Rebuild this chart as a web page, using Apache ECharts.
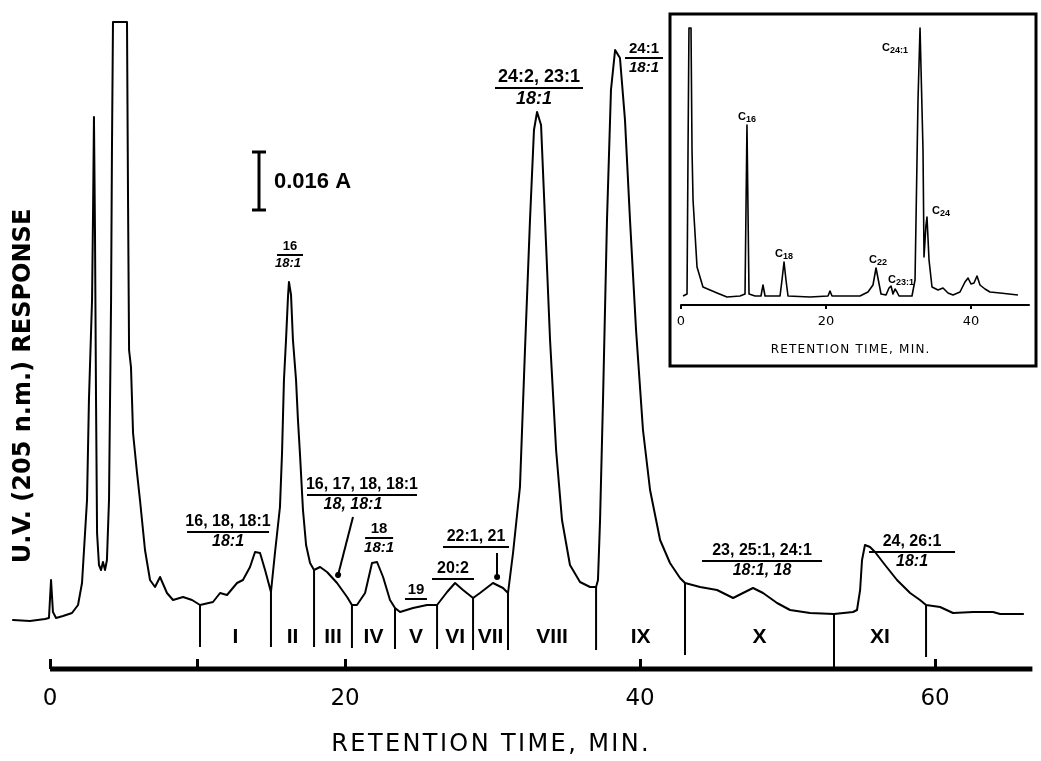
<!DOCTYPE html>
<html>
<head>
<meta charset="utf-8">
<title>HPLC chromatogram</title>
<script src="https://cdn.jsdelivr.net/npm/echarts@6/dist/echarts.min.js"></script>
<style>
  html, body { margin: 0; padding: 0; background: #fff; }
  #chart { width: 1041px; height: 761px; }
</style>
</head>
<body>
<div id="chart"></div>
<script>
// main trace: retention time (min) / UV response (arbitrary units)
var traceTime = [-2.51, -1.36, -0.34, -0.07, 0.07, 0.20, 0.41, 0.88, 1.49, 1.90, 2.17, 2.51, 2.64, 2.85, 2.92, 2.98,
  3.05, 3.12, 3.19, 3.32, 3.46, 3.59, 3.73, 3.86, 4.00, 4.14, 4.20, 4.27, 5.22, 5.29, 5.36, 5.49, 5.63, 5.90,
  6.10, 6.44, 6.78, 7.12, 7.46, 7.59, 7.93, 8.34, 9.02, 9.63, 10.17, 11.05, 11.53, 12.00, 12.68, 13.08, 13.56,
  13.90, 14.24, 14.58, 14.98, 15.25, 15.59, 15.73, 15.86, 16.00, 16.14, 16.20, 16.34, 16.47, 16.68, 16.81,
  16.95, 17.15, 17.36, 17.63, 17.90, 18.31, 18.78, 19.46, 20.14, 20.47, 20.81, 21.36, 21.83, 22.17, 22.58,
  23.05, 23.39, 23.73, 24.61, 25.56, 26.24, 26.92, 27.46, 28.00, 28.68, 29.15, 30.03, 30.71, 31.05, 31.39,
  31.86, 32.20, 32.54, 32.81, 33.02, 33.29, 33.56, 33.90, 34.31, 34.71, 35.25, 35.93, 36.61, 37.02, 37.15,
  37.29, 37.49, 37.76, 38.03, 38.31, 38.64, 38.98, 39.32, 39.73, 40.20, 40.68, 41.36, 42.03, 42.71, 43.05,
  44.07, 45.22, 46.31, 46.98, 47.66, 48.34, 49.29, 50.17, 51.53, 53.15, 54.44, 54.71, 54.92, 55.05, 55.25,
  55.59, 55.93, 56.61, 57.42, 58.31, 58.98, 59.39, 60.34, 61.22, 62.58, 63.93, 64.41, 65.97];
var traceResponse = [49, 48, 50, 51, 89, 57, 51, 53, 56, 64, 86, 169, 269, 369, 459, 552,
  436, 269, 136, 104, 99, 107, 99, 109, 169, 369, 519, 647, 647, 469, 319, 302, 236, 196,
  169, 119, 89, 82, 92, 91, 76, 69, 72, 69, 64, 67, 76, 74, 86, 89, 102,
  117, 116, 99, 77, 116, 162, 216, 289, 329, 374, 387, 374, 329, 289, 249,
  214, 159, 124, 106, 99, 102, 97, 86, 72, 64, 64, 76, 106, 107, 92,
  69, 61, 57, 61, 64, 64, 77, 86, 79, 71, 76, 86, 81, 76, 116,
  182, 319, 449, 539, 557, 544, 449, 329, 219, 149, 104, 87, 82, 82, 89,
  149, 269, 449, 579, 619, 611, 549, 449, 339, 239, 179, 129, 106, 91, 86,
  82, 79, 71, 76, 81, 76, 66, 59, 56, 55, 57, 59, 79, 109, 124,
  122, 117, 104, 89, 76, 69, 64, 62, 56, 57, 57, 55, 55];

// fraction cut points (min) with pen line top/bottom (response units)
var fractionNames = ['I', 'II', 'III', 'IV', 'V', 'VI', 'VII', 'VIII', 'IX', 'X', 'XI'];
var sepTime = [10.17, 14.98, 17.90, 20.47, 23.39, 26.24, 28.68, 31.05, 37.02, 43.05, 53.15, 59.39];
var sepTop = [64, 77, 99, 64, 61, 64, 71, 76, 82, 86, 55, 64];
var sepBottom = [22, 22, 22, 21, 20, 20, 19, 19, 19, 14, 1, 12];

// peak assignments (numerator / denominator)
var annNumerator = ['16, 18, 18:1', '16', '16, 17, 18, 18:1', '18', '19', '20:2', '22:1, 21',
  '24:2, 23:1', '24:1', '23, 25:1, 24:1', '24, 26:1'];
var annDenominator = ['18:1', '18:1', '18, 18:1', '18:1', '', '', '', '18:1', '18:1', '18:1, 18', '18:1'];
var annTime = [12.07, 16.27, 21.15, 22.31, 24.81, 27.32, 28.88, 33.15, 40.27, 48.27, 58.44];
var annLevel = [137, 414, 174, 131, 70, 90, 122, 581, 611, 108, 117];
var pointerFrom = [[20.54, 152], [30.31, 116]];
var pointerTo = [[19.53, 94], [30.31, 92]];

var mainTicks = [0, 10, 20, 40, 60];
var mainTickLabels = [0, 20, 40, 60];

// inset: GC of the methyl esters
var insetTime = [0.28, 0.83, 0.97, 1.10, 1.38, 1.52, 1.66, 2.21, 3.03, 4.97, 6.34, 8.14, 8.83, 9.10, 9.38,
  10.21, 11.03, 11.31, 11.59, 13.66, 13.93, 14.21, 14.48, 14.76, 17.79, 20.28, 20.55, 20.83, 24.69, 25.79,
  26.48, 26.90, 27.17, 27.59, 28.28, 28.69, 28.97, 29.24, 29.52, 29.79, 30.07, 31.86, 32.28, 32.69, 32.97,
  33.24, 33.38, 33.52, 33.79, 33.93, 34.21, 34.62, 35.45, 36.14, 36.83, 37.52, 38.48, 39.17, 39.59, 40.00,
  40.41, 40.83, 41.24, 41.93, 42.62, 44.00, 46.48];
var insetResponse = [9, 11, 155, 277, 277, 155, 105, 38, 18, 12, 8, 9, 11, 180, 11,
  9, 9, 20, 9, 9, 25, 43, 25, 9, 8, 9, 14, 9, 9, 13,
  20, 37, 35, 11, 10, 17, 19, 11, 16, 13, 9, 9, 25, 205, 277,
  277, 155, 48, 80, 88, 45, 18, 15, 17, 12, 10, 13, 23, 27, 21,
  22, 29, 20, 16, 13, 12, 10];
var insetPeakNames = ['16', '18', '22', '23:1', '24:1', '24'];
var insetPeakTime = [9.10, 14.21, 26.90, 28.97, 33.10, 33.93];
var insetPeakHeight = [180, 43, 37, 19, 277, 88];
var insetTicks = [0, 20, 40];

var FONT = '"DejaVu Sans", sans-serif';
var ANN_FONT = '"Liberation Sans", sans-serif';

// per-label layout: half width of the bar (px), font size, denominator shift
var annLayout = [
  { hw: 41, fs: 16, dx: 0 }, { hw: 13, fs: 13, dx: -2 }, { hw: 55, fs: 16, dx: -9 },
  { hw: 14, fs: 15, dx: 0 }, { hw: 11, fs: 15, dx: 0 }, { hw: 21, fs: 16, dx: 0 },
  { hw: 33, fs: 16, dx: 0 }, { hw: 44, fs: 18, dx: -5 }, { hw: 19, fs: 15, dx: 0 },
  { hw: 60, fs: 16, dx: 0 }, { hw: 43, fs: 16, dx: 0 }
];
var insetLabelOffset = [[0, 2], [0, 2], [2, 2], [10, 4], [-26, 30], [14, 4]];

var romanTime = fractionNames.map(function (n, i) { return (sepTime[i] + sepTime[i + 1]) / 2; });

// spread letters a little, like the stencil lettering
function spaced(s) { return s.split('').join('\u200A'); }

var chart = echarts.init(document.getElementById('chart'));

var option = {
  animation: false,
  backgroundColor: '#fff',
  grid: [
    { left: 11.65, width: 1020.75, top: 0, height: 669 },
    { left: 681, width: 348, top: 14, height: 291 }
  ],
  xAxis: [
    {
      type: 'value', gridIndex: 0, min: -2.6, max: 66.6,
      axisLine: { show: false },
      splitLine: { show: false },
      axisTick: { show: true, inside: true, length: 10, customValues: mainTicks, lineStyle: { color: '#000', width: 3 } },
      axisLabel: { customValues: mainTickLabels, color: '#000', fontSize: 23, fontFamily: FONT, margin: 19 }
    },
    {
      type: 'value', gridIndex: 1, min: 0, max: 48,
      axisLine: { show: true, lineStyle: { color: '#000', width: 2 } },
      splitLine: { show: false },
      axisTick: { show: true, length: 4, customValues: insetTicks, lineStyle: { color: '#000', width: 2 } },
      axisLabel: { customValues: insetTicks, color: '#000', fontSize: 13, fontFamily: FONT, margin: 10 }
    }
  ],
  yAxis: [
    { type: 'value', gridIndex: 0, min: 0, max: 669, show: false },
    { type: 'value', gridIndex: 1, min: 0, max: 291, show: false }
  ],
  series: [
    {
      name: 'axis', type: 'line', xAxisIndex: 0, yAxisIndex: 0, clip: false, silent: true,
      showSymbol: false, data: [[0, 0], [66.6, 0]],
      lineStyle: { color: '#000', width: 5 }
    },
    {
      name: 'UV 205 nm', type: 'line', xAxisIndex: 0, yAxisIndex: 0,
      showSymbol: false, smooth: false,
      data: traceTime.map(function (t, i) { return [t, traceResponse[i]]; }),
      lineStyle: { color: '#000', width: 2, join: 'round', cap: 'round' }
    },
    {
      name: 'cuts', type: 'custom', xAxisIndex: 0, yAxisIndex: 0, silent: true,
      data: sepTime.map(function (t, i) { return [t, sepTop[i], sepBottom[i]]; }),
      renderItem: function (params, api) {
        var a = api.coord([api.value(0), api.value(1)]);
        var b = api.coord([api.value(0), api.value(2)]);
        return { type: 'line', shape: { x1: a[0], y1: a[1], x2: b[0], y2: b[1] }, style: { stroke: '#000', lineWidth: 2 } };
      }
    },
    {
      name: 'fractions', type: 'custom', xAxisIndex: 0, yAxisIndex: 0, silent: true,
      data: romanTime.map(function (t) { return [t, 32]; }),
      renderItem: function (params, api) {
        var p = api.coord([api.value(0), api.value(1)]);
        return { type: 'text', x: p[0], y: p[1], style: { text: fractionNames[params.dataIndex], align: 'center',
          verticalAlign: 'middle', fill: '#000', fontSize: 21, fontWeight: 'bold', fontFamily: ANN_FONT } };
      }
    },
    {
      name: 'assignments', type: 'custom', xAxisIndex: 0, yAxisIndex: 0, silent: true,
      data: annTime.map(function (t, i) { return [t, annLevel[i]]; }),
      renderItem: function (params, api) {
        var i = params.dataIndex;
        var p = api.coord([api.value(0), api.value(1)]);
        var s = annLayout[i];
        var kids = [
          { type: 'line', shape: { x1: p[0] - s.hw, y1: p[1], x2: p[0] + s.hw, y2: p[1] }, style: { stroke: '#000', lineWidth: 2 } },
          { type: 'text', x: p[0], y: p[1] - 2, style: { text: annNumerator[i], align: 'center', verticalAlign: 'bottom',
            fill: '#000', fontSize: s.fs, fontFamily: ANN_FONT, fontWeight: 'bold' } }
        ];
        if (annDenominator[i]) {
          kids.push({ type: 'text', x: p[0] + s.dx, y: p[1] + 2, style: { text: annDenominator[i], align: 'center', verticalAlign: 'top',
            fill: '#000', fontSize: s.fs, fontFamily: ANN_FONT, fontWeight: 'bold', fontStyle: 'italic' } });
        }
        return { type: 'group', children: kids };
      }
    },
    {
      name: 'pointers', type: 'lines', coordinateSystem: 'cartesian2d', xAxisIndex: 0, yAxisIndex: 0, silent: true,
      symbol: ['none', 'circle'], symbolSize: 6,
      data: pointerFrom.map(function (f, i) { return { coords: [f, pointerTo[i]] }; }),
      lineStyle: { color: '#000', width: 2, opacity: 1 }
    },
    {
      name: 'GC', type: 'line', xAxisIndex: 1, yAxisIndex: 1,
      showSymbol: false, smooth: false,
      data: insetTime.map(function (t, i) { return [t, insetResponse[i]]; }),
      lineStyle: { color: '#000', width: 1.6, join: 'round' }
    },
    {
      name: 'GC peaks', type: 'custom', xAxisIndex: 1, yAxisIndex: 1, silent: true,
      data: insetPeakTime.map(function (t, i) { return [t, insetPeakHeight[i]]; }),
      renderItem: function (params, api) {
        var i = params.dataIndex;
        var p = api.coord([api.value(0), api.value(1)]);
        var off = insetLabelOffset[i];
        return { type: 'text', x: p[0] + off[0], y: p[1] - 3 + off[1], style: {
          text: '{c|C}{s|' + insetPeakNames[i] + '}', align: 'center', verticalAlign: 'bottom',
          rich: {
            c: { fontSize: 11, fontWeight: 'bold', fontFamily: ANN_FONT, fill: '#000' },
            s: { fontSize: 9, fontWeight: 'bold', fontFamily: ANN_FONT, fill: '#000', padding: [5, 0, 0, 0] }
          } } };
      }
    }
  ],
  graphic: [
    { type: 'rect', shape: { x: 670, y: 14, width: 366, height: 352 }, style: { fill: 'none', stroke: '#000', lineWidth: 3 } },
    { type: 'text', x: 850, y: 350, style: { text: spaced('RETENTION TIME, MIN.'), align: 'center', verticalAlign: 'middle',
      fill: '#000', fontSize: 12, fontFamily: FONT } },
    { type: 'text', x: 490, y: 745, style: { text: spaced('RETENTION TIME, MIN.'), align: 'center', verticalAlign: 'middle',
      fill: '#000', fontSize: 24, fontFamily: FONT } },
    { type: 'text', x: 24, y: 386, rotation: Math.PI / 2, style: { text: 'U.V. (205 n.m.) RESPONSE', align: 'center',
      verticalAlign: 'middle', fill: '#000', fontSize: 24, fontWeight: 'bold', fontFamily: FONT } },
    // 0.016 A scale bar
    { type: 'line', shape: { x1: 259, y1: 152, x2: 259, y2: 210 }, style: { stroke: '#000', lineWidth: 3 } },
    { type: 'line', shape: { x1: 252, y1: 152, x2: 266, y2: 152 }, style: { stroke: '#000', lineWidth: 3 } },
    { type: 'line', shape: { x1: 252, y1: 210, x2: 266, y2: 210 }, style: { stroke: '#000', lineWidth: 3 } },
    { type: 'text', x: 274, y: 182, style: { text: '0.016 A', align: 'left', verticalAlign: 'middle',
      fill: '#000', fontSize: 22, fontWeight: 'bold', fontFamily: ANN_FONT } }
  ]
};

chart.setOption(option);
</script>
</body>
</html>
